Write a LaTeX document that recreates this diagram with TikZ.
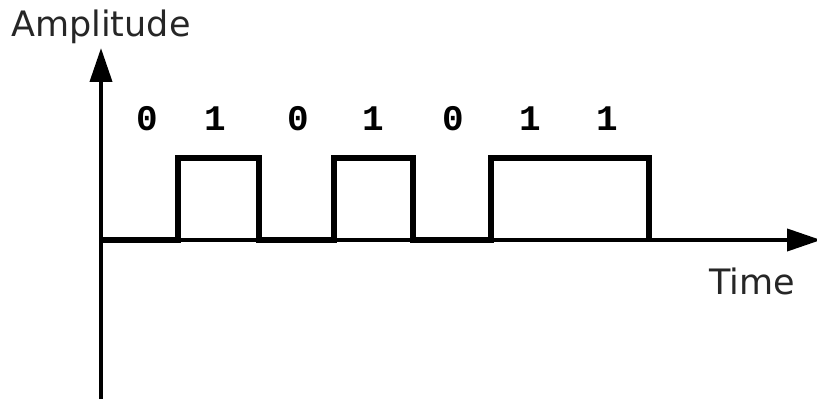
\documentclass[tikz,border=0pt]{standalone}
\usepackage{fontspec}
\setmainfont{DejaVu Sans}
\newfontfamily\bitfont{Liberation Mono}
\usetikzlibrary{arrows.meta,positioning}
\tikzset{
  axis/.style={
    line width=4pt,
    -{Triangle[length=34pt,width=22pt]}
  },
  signal/.style={
    line width=6pt,
    line join=miter
  },
  axislabel/.style={
    inner sep=0pt,
    anchor=base west,
    text=black!85,
    font=\fontsize{35}{40}\selectfont
  },
  bitlabel/.style={
    inner sep=0pt,
    font=\bitfont\bfseries\fontsize{36}{40}\selectfont
  }
}

\begin{document}
\begin{tikzpicture}[x=1pt,y=-1pt]
\useasboundingbox (0,0) rectangle (817,401);
\coordinate (origin) at (101,240);
\coordinate (ybottom) at (101,399);
\coordinate (ytop) at (101,48);
\coordinate (xend) at (821,240);
\draw[axis] (ybottom) -- (ytop);
\draw[axis] (origin) -- (xend);
\draw[signal] (origin) -- (178,240) -- (178,158) -- (259,158) -- (259,240)
  -- (334,240) -- (334,158) -- (413,158) -- (413,240)
  -- (491,240) -- (491,158) -- (649,158) -- (649,240);
\node[axislabel] (amp) at (11,37) {Amplitude};
\node[axislabel] (time) at (709,294) {Time};
\foreach \x/\b [count=\i] in {147/0,215/1,298/0,373/1,453/0,530/1,607/1}
  \node[bitlabel] (bit\i) at (\x,119) {\b};
\end{tikzpicture}
\end{document}
